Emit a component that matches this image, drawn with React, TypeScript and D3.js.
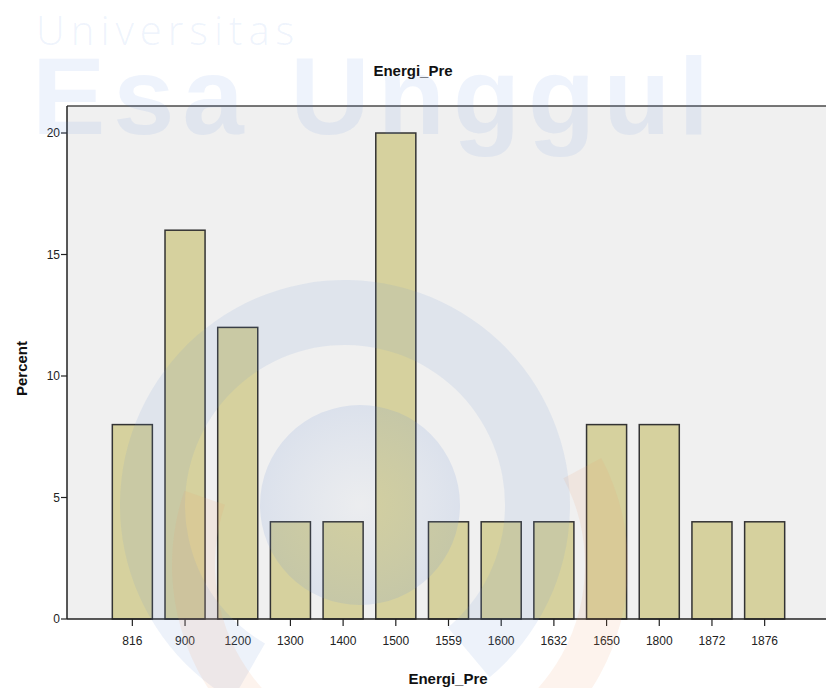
import * as d3 from 'd3';

// Energi_Pre frequency table (percent)
const categories = ['816', '900', '1200', '1300', '1400', '1500', '1559', '1600', '1632', '1650', '1800', '1872', '1876'];
const percents = [8, 16, 12, 4, 4, 20, 4, 4, 4, 8, 8, 4, 4];
const yTicks = [0, 5, 10, 15, 20];

const W = 826;
const H = 688;
const plot = { left: 67, top: 106, right: 830, bottom: 619 };
const font = "Arial, 'Liberation Sans', sans-serif";

const App = () => {
  const x = d3
    .scaleBand<string>()
    .domain(categories)
    .range([106, 791])
    .paddingInner(0.24)
    .paddingOuter(0.12);

  const y = d3.scaleLinear().domain([0, 20]).range([plot.bottom, 133]);

  // watermark arcs (logo)
  const blueRing = d3.arc<any>()({
    innerRadius: 160,
    outerRadius: 225,
    startAngle: (-150 * Math.PI) / 180,
    endAngle: (140 * Math.PI) / 180,
  }) as string;
  const orangeRing = d3.arc<any>()({
    innerRadius: 185,
    outerRadius: 228,
    startAngle: (62 * Math.PI) / 180,
    endAngle: (289 * Math.PI) / 180,
  }) as string;

  return (
    <svg width={W} height={H} style={{ position: 'absolute', left: 0, top: 0, background: '#fff' }}>
      <defs>
        <radialGradient id="core" cx="0.5" cy="0.5" r="0.5">
          <stop offset="0%" stopColor="#7f9fd8" stopOpacity={0.04} />
          <stop offset="100%" stopColor="#6f93d6" stopOpacity={0.16} />
        </radialGradient>
      </defs>

      {/* title */}
      <text x={413} y={76} textAnchor="middle" fontFamily={font} fontWeight="bold" fontSize={15} fill="#111">
        Energi_Pre
      </text>

      {/* plot background */}
      <rect x={plot.left} y={plot.top} width={plot.right - plot.left} height={plot.bottom - plot.top} fill="#f0f0f0" />
      <line x1={plot.left} x2={plot.right} y1={plot.top} y2={plot.top} stroke="#4a4a4a" strokeWidth={1.5} />

      {/* bars */}
      {categories.map((c, i) => (
        <rect
          key={c}
          x={x(c)}
          y={y(percents[i])}
          width={x.bandwidth()}
          height={y(0) - y(percents[i])}
          fill="#d6d19e"
          stroke="#333"
          strokeWidth={1.5}
        />
      ))}

      {/* axes */}
      <line x1={plot.left} x2={plot.left} y1={plot.top} y2={plot.bottom} stroke="#222" strokeWidth={1.5} />
      <line x1={plot.left} x2={plot.right} y1={plot.bottom} y2={plot.bottom} stroke="#222" strokeWidth={1.5} />

      {yTicks.map((t) => (
        <g key={t}>
          <line x1={plot.left - 6} x2={plot.left} y1={y(t)} y2={y(t)} stroke="#222" strokeWidth={1.2} />
          <text x={plot.left - 7} y={y(t) + 4} textAnchor="end" fontFamily={font} fontSize={12} fill="#222">
            {t}
          </text>
        </g>
      ))}

      {categories.map((c) => {
        const cx = (x(c) as number) + x.bandwidth() / 2;
        return (
          <g key={c}>
            <line x1={cx} x2={cx} y1={plot.bottom} y2={plot.bottom + 7} stroke="#222" strokeWidth={1.2} />
            <text x={cx} y={plot.bottom + 26} textAnchor="middle" fontFamily={font} fontSize={12} fill="#222">
              {c}
            </text>
          </g>
        );
      })}

      <text x={448} y={684} textAnchor="middle" fontFamily={font} fontWeight="bold" fontSize={15} fill="#111">
        Energi_Pre
      </text>
      <text
        transform={`translate(27, ${(plot.top + plot.bottom) / 2 + 6}) rotate(-90)`}
        textAnchor="middle"
        fontFamily={font}
        fontWeight="bold"
        fontSize={15}
        fill="#111"
      >
        Percent
      </text>

      {/* watermark */}
      <g pointerEvents="none">
        <text x={36} y={45} fontFamily="'Open Sans', Arial, sans-serif" fontWeight={300} fontSize={40} letterSpacing={6} fill="#5a8ae0" fillOpacity={0.1}>
          Universitas
        </text>
        <text x={32} y={134} fontFamily="Arial, 'Liberation Sans', sans-serif" fontWeight="bold" fontSize={110} letterSpacing={8} fill="#5a8ae0" fillOpacity={0.1}>
          Esa Unggul
        </text>
        <circle cx={360} cy={505} r={100} fill="url(#core)" />
        <path d={blueRing} transform="translate(345,505)" fill="#6f93d6" fillOpacity={0.12} />
        <path d={orangeRing} transform="translate(400,565)" fill="#f29a6a" fillOpacity={0.12} />
      </g>
    </svg>
  );
};

export default App;
